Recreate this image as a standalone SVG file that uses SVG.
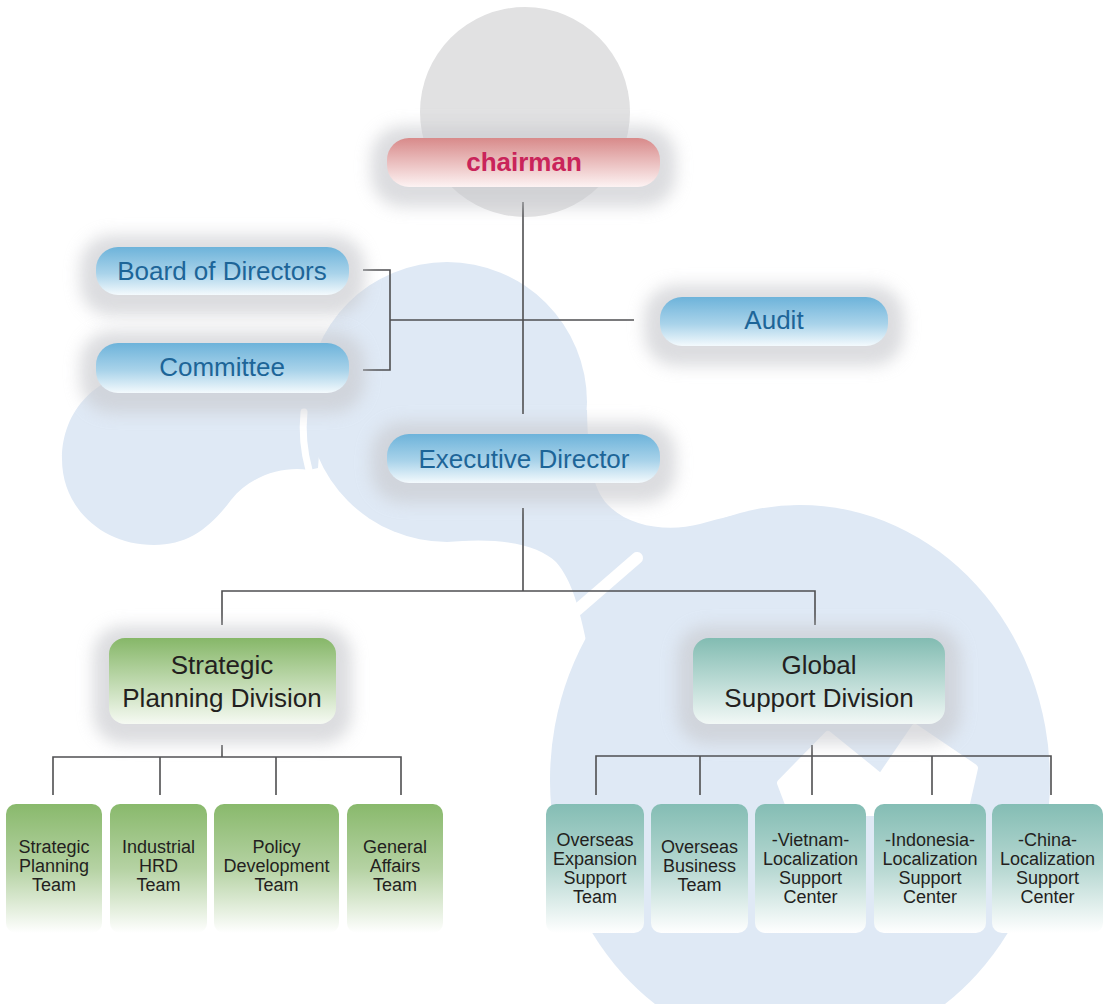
<svg xmlns="http://www.w3.org/2000/svg" width="1103" height="1004" viewBox="0 0 1103 1004">
<defs>
<style>
.bg{fill:#dfe9f5}
.ln{stroke:#4f4f51;stroke-width:1.6;fill:none}
.sh{fill:#c9cacf;opacity:0.65;filter:url(#blur)}
.tb{font-family:"Liberation Sans",Arial,sans-serif;font-size:26px;fill:#1d6598;text-anchor:middle}
.tc{font-family:"Liberation Sans",Arial,sans-serif;font-size:26px;font-weight:bold;fill:#c9245a;text-anchor:middle}
.td{font-family:"Liberation Sans",Arial,sans-serif;font-size:26px;fill:#231f20;text-anchor:middle}
.tt{font-family:"Liberation Sans",Arial,sans-serif;font-size:18px;fill:#231f20;text-anchor:middle}
</style>
<filter id="blur" x="-30%" y="-60%" width="160%" height="220%"><feGaussianBlur stdDeviation="8"/></filter>
<linearGradient id="gRed" x1="0" y1="0" x2="0" y2="1"><stop offset="0" stop-color="#d88a8a"/><stop offset="1" stop-color="#fdf3f3"/></linearGradient>
<linearGradient id="gBlue" x1="0" y1="0" x2="0" y2="1"><stop offset="0" stop-color="#6db3da"/><stop offset="0.55" stop-color="#a9d3ea"/><stop offset="1" stop-color="#f4fafd"/></linearGradient>
<linearGradient id="gGreen" x1="0" y1="0" x2="0" y2="1"><stop offset="0" stop-color="#86b768"/><stop offset="1" stop-color="#f6faf3"/></linearGradient>
<linearGradient id="gTeal" x1="0" y1="0" x2="0" y2="1"><stop offset="0" stop-color="#82bcb2"/><stop offset="1" stop-color="#f2f8f6"/></linearGradient>
<linearGradient id="gGreenT" x1="0" y1="0" x2="0" y2="1"><stop offset="0" stop-color="#89b96c"/><stop offset="0.5" stop-color="#b5d2a3"/><stop offset="1" stop-color="#ffffff"/></linearGradient>
<linearGradient id="gTealT" x1="0" y1="0" x2="0" y2="1"><stop offset="0" stop-color="#84bdb4"/><stop offset="0.5" stop-color="#b7d8d2"/><stop offset="1" stop-color="#ffffff"/></linearGradient>
</defs>
<rect width="1103" height="1004" fill="#ffffff"/>
<g id="background">
<ellipse class="bg" cx="800" cy="780" rx="250" ry="275"/>
<circle class="bg" cx="447" cy="402" r="140"/>
<path class="bg" d="M 460,541 C 505,538 540,546 556,562 C 572,580 580,610 588,650 L 800,650 L 800,505 C 770,508 735,514 700,524 C 670,532 630,528 608,505 C 592,488 588,460 587,410 L 460,410 Z"/>
<path class="bg" d="M 62,459 C 62,410 98,372 148,372 L 325,372 L 318,468 L 309,470 C 285,466 252,474 231,500 C 210,528 188,545 154,545 C 102,545 62,508 62,459 Z"/>
<path d="M 304,412 C 302,432 304,452 309,470" stroke="#ffffff" stroke-width="7" stroke-linecap="round" fill="none"/>
<path d="M 577,610 L 637,558" stroke="#ffffff" stroke-width="12" stroke-linecap="round" fill="none"/>
<path d="M 781,783 L 828,735 L 881,778 L 915,728 L 974,768 L 964,812 L 792,812 Z" fill="#ffffff" stroke="#ffffff" stroke-width="8" stroke-linejoin="round"/>
<circle cx="525" cy="112" r="105" fill="#e1e1e2"/>
</g>
<g id="connectors">
<path class="ln" d="M 523,202 V 414"/>
<path class="ln" d="M 363,270 H 390 V 370 H 363 M 390,320 H 634"/>
<path class="ln" d="M 523,508 V 591 M 222,625 V 591 H 815 V 625"/>
<path class="ln" d="M 222,745 V 757 M 53,795 V 757 H 401 V 795 M 160,757 V 795 M 276,757 V 795"/>
<path class="ln" d="M 812,745 V 795 M 596,795 V 756 H 1051 V 795 M 700,756 V 795 M 932,756 V 795"/>
</g>
<g id="chairman">
<rect class="sh" x="371" y="126" width="305" height="81" rx="32"/>
<rect x="387" y="138" width="273" height="49" rx="22" fill="url(#gRed)"/>
<text class="tc" x="524" y="171">chairman</text>
</g>
<g id="board">
<rect class="sh" x="80" y="235" width="285" height="81" rx="32"/>
<rect x="96" y="247" width="253" height="48" rx="22" fill="url(#gBlue)"/>
<text class="tb" x="222" y="280">Board of Directors</text>
</g>
<g id="committee">
<rect class="sh" x="80" y="331" width="285" height="82" rx="32"/>
<rect x="96" y="343" width="253" height="50" rx="22" fill="url(#gBlue)"/>
<text class="tb" x="222" y="376">Committee</text>
</g>
<g id="audit">
<rect class="sh" x="644" y="285" width="260" height="81" rx="32"/>
<rect x="660" y="297" width="228" height="49" rx="22" fill="url(#gBlue)"/>
<text class="tb" x="774" y="329">Audit</text>
</g>
<g id="executive">
<rect class="sh" x="371" y="422" width="305" height="81" rx="32"/>
<rect x="387" y="434" width="273" height="49" rx="22" fill="url(#gBlue)"/>
<text class="tb" x="524" y="468">Executive Director</text>
</g>
<g id="strategic-division">
<rect class="sh" x="93" y="626" width="259" height="118" rx="30"/>
<rect x="109" y="638" width="227" height="86" rx="16" fill="url(#gGreen)"/>
<text class="td" x="222" y="674">Strategic<tspan x="222" dy="33">Planning Division</tspan></text>
</g>
<g id="global-division">
<rect class="sh" x="677" y="626" width="284" height="118" rx="30"/>
<rect x="693" y="638" width="252" height="86" rx="16" fill="url(#gTeal)"/>
<text class="td" x="819" y="674">Global<tspan x="819" dy="33">Support Division</tspan></text>
</g>
<g id="team-strategic-planning">
<rect x="6" y="804" width="96" height="129" rx="10" fill="url(#gGreenT)"/>
<text class="tt" x="54" y="853">Strategic<tspan x="54" dy="19">Planning</tspan><tspan x="54" dy="19">Team</tspan></text>
</g>
<g id="team-industrial-hrd">
<rect x="110" y="804" width="97" height="129" rx="10" fill="url(#gGreenT)"/>
<text class="tt" x="158.5" y="853">Industrial<tspan x="158.5" dy="19">HRD</tspan><tspan x="158.5" dy="19">Team</tspan></text>
</g>
<g id="team-policy">
<rect x="214" y="804" width="125" height="129" rx="10" fill="url(#gGreenT)"/>
<text class="tt" x="276.5" y="853">Policy<tspan x="276.5" dy="19">Development</tspan><tspan x="276.5" dy="19">Team</tspan></text>
</g>
<g id="team-general-affairs">
<rect x="347" y="804" width="96" height="129" rx="10" fill="url(#gGreenT)"/>
<text class="tt" x="395" y="853">General<tspan x="395" dy="19">Affairs</tspan><tspan x="395" dy="19">Team</tspan></text>
</g>
<g id="team-overseas-expansion">
<rect x="546" y="804" width="98" height="129" rx="10" fill="url(#gTealT)"/>
<text class="tt" x="595" y="846">Overseas<tspan x="595" dy="19">Expansion</tspan><tspan x="595" dy="19">Support</tspan><tspan x="595" dy="19">Team</tspan></text>
</g>
<g id="team-overseas-business">
<rect x="651" y="804" width="97" height="129" rx="10" fill="url(#gTealT)"/>
<text class="tt" x="699.5" y="853">Overseas<tspan x="699.5" dy="19">Business</tspan><tspan x="699.5" dy="19">Team</tspan></text>
</g>
<g id="center-vietnam">
<rect x="755" y="804" width="111" height="129" rx="10" fill="url(#gTealT)"/>
<text class="tt" x="810.5" y="846">-Vietnam-<tspan x="810.5" dy="19">Localization</tspan><tspan x="810.5" dy="19">Support</tspan><tspan x="810.5" dy="19">Center</tspan></text>
</g>
<g id="center-indonesia">
<rect x="874" y="804" width="112" height="129" rx="10" fill="url(#gTealT)"/>
<text class="tt" x="930" y="846">-Indonesia-<tspan x="930" dy="19">Localization</tspan><tspan x="930" dy="19">Support</tspan><tspan x="930" dy="19">Center</tspan></text>
</g>
<g id="center-china">
<rect x="992" y="804" width="111" height="129" rx="10" fill="url(#gTealT)"/>
<text class="tt" x="1047.5" y="846">-China-<tspan x="1047.5" dy="19">Localization</tspan><tspan x="1047.5" dy="19">Support</tspan><tspan x="1047.5" dy="19">Center</tspan></text>
</g>
</svg>
